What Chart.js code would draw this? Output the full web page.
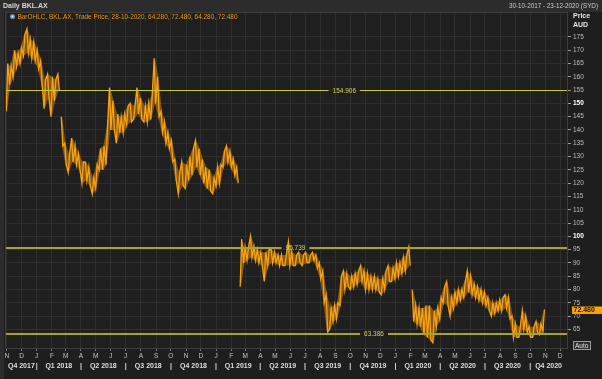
<!DOCTYPE html>
<html>
<head>
<meta charset="utf-8">
<script src="https://cdn.jsdelivr.net/npm/chart.js@4.4.0/dist/chart.umd.min.js"></script>
<style>
  html, body { margin: 0; padding: 0; background: #1e1e1e; }
  canvas { display: block; }
</style>
</head>
<body>
<canvas id="priceChart" width="602" height="379"></canvas>
<script>
// weekly low / high of BKL.AX, one entry per week, first week starts Monday 30-10-2017
const firstWeek = '2017-10-30';
const weekLows = [
  147, 157, 160, 164, 165, 168, 169, 167, 166, 163,
  157, 148, 152, 145, 151, 155,
  134, 127, 124, 128, 127, 125, 120, 121, 119, 116,
  118, 125, 125, 127, 140, 140, 135, 139, 139, 142,
  143, 144, 146, 144, 143, 143, 144, 150, 145, 139,
  135, 133, 128, 121, 116, 119, 118, 121, 123, 126,
  123, 120, 118, 117, 116, 119, 120, 126, 128, 126,
  123, 120,
  81, 90, 91, 92, 91, 90, 89, 83, 89, 90,
  90, 89, 89, 89, 89, 89, 89, 90, 89, 90,
  90, 91, 88, 84, 75, 64, 65, 68, 69, 74,
  80, 81, 80, 81, 82, 83, 80, 80, 80, 80,
  79, 78, 80, 83, 83, 84, 85, 86, 87, 89,
  68, 67, 66, 63, 62, 61, 60, 66, 69, 75,
  74, 70, 73, 75, 76, 77, 79, 78, 77, 76,
  75, 74, 72, 70, 71, 72, 72, 73, 69, 62,
  62, 62, 65, 64, 62, 62, 64, 63, 64.28
];
const weekHighs = [
  165, 164, 170, 169, 171, 176, 178, 174, 173, 170,
  166, 159, 161, 160, 159, 161,
  145, 135, 131, 137, 134, 131, 128, 128, 126, 122,
  127, 133, 134, 141, 156, 151, 146, 145, 146, 149,
  150, 149, 156, 152, 149, 150, 153, 167, 160, 147,
  143, 139, 136, 129, 124, 128, 127, 130, 133, 136,
  133, 129, 126, 125, 122, 126, 127, 132, 134, 132,
  129, 126,
  99, 96, 96, 100, 96, 95, 94, 94, 95, 95,
  94, 93, 93, 93, 98, 94, 93, 94, 93, 94,
  93, 94, 93, 90, 87, 78, 73, 74, 75, 85,
  87, 86, 85, 86, 87, 89, 87, 86, 85, 85,
  84, 84, 87, 89, 88, 90, 90, 92, 93, 96,
  80, 74, 73, 73, 74, 74, 72, 73, 77, 81,
  83, 77, 79, 80, 80, 83, 87, 85, 82, 81,
  80, 79, 77, 75, 75, 76, 77, 78, 77, 70,
  67, 66, 72, 70, 66, 66, 68, 67, 72.48
];

// last bar shown in the legend: open, high, low, close
const lastBarDate = '28-10-2020';
const lastBar = [64.28, 72.48, 64.28, 72.48];

// horizontal levels drawn on the chart
const levelValues = [154.906, 95.739, 63.386];

// axis labels
const firstMonth = [2017, 10]; // November 2017 (month is 0 based)
const monthLabels = [
  'N', 'D',
  'J', 'F', 'M', 'A', 'M', 'J', 'J', 'A', 'S', 'O', 'N', 'D',
  'J', 'F', 'M', 'A', 'M', 'J', 'J', 'A', 'S', 'O', 'N', 'D',
  'J', 'F', 'M', 'A', 'M', 'J', 'J', 'A', 'S', 'O', 'N', 'D'
];
const firstQuarter = [2017, 9]; // Q4 2017 starts in October
const quarterLabels = ['Q4 2017', 'Q1 2018', 'Q2 2018', 'Q3 2018', 'Q4 2018', 'Q1 2019', 'Q2 2019',
  'Q3 2019', 'Q4 2019', 'Q1 2020', 'Q2 2020', 'Q3 2020', 'Q4 2020'];
const priceTicks = [65, 70, 75, 80, 85, 90, 95, 100, 105, 110, 115, 120, 125, 130, 135, 140, 145,
  150, 155, 160, 165, 170, 175];

const FONT = '"Liberation Sans", Arial, sans-serif';
const ORANGE = '#f7a213';
const DAY = 864e5;

function toDay(text) { // yyyy-mm-dd to a day number
  const [y, m, d] = text.split('-').map(Number);
  return Date.UTC(y, m - 1, d) / DAY;
}
const origin = toDay(firstWeek);
const xMin = 0.5;
const xMax = toDay('2020-12-15') - origin;

function isGap(i) { // weekly ranges that do not touch = price gap
  return i > 0 && (weekHighs[i] < weekLows[i - 1] || weekLows[i] > weekHighs[i - 1]);
}

// each week becomes a low/high pair, so the line zig-zags like the daily bars
const pricePoints = [];
const lowPoints = [];
const highPoints = [];
weekLows.forEach((low, i) => {
  const high = weekHighs[i];
  if (isGap(i)) {
    pricePoints.push({ x: 7 * i, y: null });
    lowPoints.push({ x: 7 * i, y: null });
    highPoints.push({ x: 7 * i, y: null });
  }
  const rising = i < weekLows.length - 1 ? weekLows[i + 1] + weekHighs[i + 1] > low + high : true;
  pricePoints.push({ x: 7 * i + 1, y: rising ? low : high });
  pricePoints.push({ x: 7 * i + 4, y: rising ? high : low });
  lowPoints.push({ x: 7 * i + 2.5, y: low });
  highPoints.push({ x: 7 * i + 2.5, y: high });
});

const monthTicks = monthLabels.map((_, k) => Date.UTC(firstMonth[0], firstMonth[1] + k, 1) / DAY - origin);

const quarterTicks = [];
quarterLabels.forEach((label, q) => {
  const start = Date.UTC(firstQuarter[0], firstQuarter[1] + 3 * q, 1) / DAY - origin;
  const end = Date.UTC(firstQuarter[0], firstQuarter[1] + 3 * q + 3, 1) / DAY - origin;
  if (q > 0) quarterTicks.push({ value: start, text: '|' });
  quarterTicks.push({ value: (Math.max(start, xMin) + Math.min(end, xMax)) / 2, text: label });
});

// backgrounds behind the plot
const backdropPlugin = {
  id: 'backdrop',
  beforeDraw(chart) {
    const { ctx, chartArea: a, width, height } = chart;
    ctx.save();
    ctx.fillStyle = '#1e1e1e';
    ctx.fillRect(0, 0, width, height);
    ctx.fillStyle = '#2c2c2c';
    ctx.fillRect(0, 0, width, 12);
    ctx.fillRect(0, 0, 4, height);
    ctx.fillStyle = '#1f1f1f';
    ctx.fillRect(a.left, a.top, a.right - a.left, a.bottom - a.top);
    ctx.restore();
  },
  afterDraw(chart) {
    const { ctx, chartArea: a } = chart;
    ctx.save();
    ctx.strokeStyle = '#3c3c3c';
    ctx.lineWidth = 1;
    ctx.strokeRect(a.left - 0.5, a.top - 0.5, a.right - a.left + 1, a.bottom - a.top + 1);
    ctx.restore();
  }
};

// level lines with their value written in a gap of the line
const levelPlugin = {
  id: 'levels',
  afterDatasetsDraw(chart, args, opts) {
    const { ctx, chartArea: a, scales: { y } } = chart;
    ctx.save();
    ctx.font = '6.5px ' + FONT;
    ctx.textAlign = 'center';
    ctx.textBaseline = 'middle';
    levelValues.forEach((value, i) => {
      const w = opts.widths[i];
      const py = Math.round(y.getPixelForValue(value)) + (w % 2 ? 0.5 : 0);
      const cx = a.left + opts.labelAt[i] * (a.right - a.left);
      const label = value.toFixed(3);
      const half = ctx.measureText(label).width / 2 + 4;
      ctx.strokeStyle = opts.colors[i];
      ctx.lineWidth = w;
      ctx.beginPath();
      ctx.moveTo(a.left, py);
      ctx.lineTo(cx - half, py);
      ctx.moveTo(cx + half, py);
      ctx.lineTo(a.right, py);
      ctx.stroke();
      ctx.fillStyle = '#cfcf5a';
      ctx.fillText(label, cx, py + 0.5);
    });
    ctx.restore();
  }
};

// header, legend line, unit label, last price box and the Auto button
const framePlugin = {
  id: 'frameText',
  afterDraw(chart) {
    const { ctx, chartArea: a, scales: { y } } = chart;
    ctx.save();
    ctx.textBaseline = 'middle';

    ctx.fillStyle = '#d6d6d6';
    ctx.font = 'bold 7px ' + FONT;
    ctx.fillText('Daily BKL.AX', 3, 6.5, 45);
    ctx.textAlign = 'right';
    ctx.font = '6.5px ' + FONT;
    ctx.fillStyle = '#cccccc';
    ctx.fillText('30-10-2017 - 23-12-2020 (SYD)', 598, 6.5, 89);

    ctx.textAlign = 'left';
    ctx.fillStyle = '#6f86a6';
    ctx.beginPath();
    ctx.arc(12.5, 16.5, 2.6, 0, Math.PI * 2);
    ctx.fill();
    ctx.fillStyle = '#d8e2ee';
    ctx.fillRect(11.5, 15.5, 2, 2);
    ctx.fillStyle = '#e89a1a';
    ctx.font = '7px ' + FONT;
    const legend = ['BarOHLC', 'BKL.AX', 'Trade Price', lastBarDate].concat(lastBar.map(v => v.toFixed(3)));
    ctx.fillText(legend.join(', '), 17.5, 17.5, 220);

    ctx.fillStyle = '#e6e6e6';
    ctx.font = 'bold 7px ' + FONT;
    ctx.fillText('Price', 573, 16.5);
    ctx.fillText('AUD', 573, 25);

    const close = lastBar[3];
    const py = Math.round(y.getPixelForValue(close));
    ctx.fillStyle = '#ffa200';
    ctx.fillRect(a.right + 5, py - 3.5, 602 - a.right - 5, 7.5);
    ctx.fillStyle = '#1a1a1a';
    ctx.font = 'bold 7px ' + FONT;
    ctx.fillText(close.toFixed(3), 573.5, py + 0.5);

    ctx.fillStyle = '#2e2e2e';
    ctx.fillRect(573.5, 341.5, 17, 8);
    ctx.strokeStyle = '#9a9a9a';
    ctx.lineWidth = 1;
    ctx.strokeRect(573.5, 341.5, 17, 8);
    ctx.fillStyle = '#e0e0e0';
    ctx.font = '6.5px ' + FONT;
    ctx.fillText('Auto', 575, 346);
    ctx.restore();
  }
};

Chart.defaults.font.family = FONT;

new Chart(document.getElementById('priceChart'), {
  type: 'line',
  data: {
    datasets: [{
      label: 'BKL.AX',
      data: pricePoints,
      borderColor: ORANGE,
      borderWidth: 1.3,
      pointRadius: 0,
      tension: 0,
      spanGaps: false,
      fill: false
    }, {
      label: 'week low',
      data: lowPoints,
      borderWidth: 0,
      borderColor: 'rgba(0,0,0,0)',
      pointRadius: 0,
      tension: 0,
      spanGaps: false,
      fill: false
    }, {
      label: 'week high',
      data: highPoints,
      borderWidth: 0,
      borderColor: 'rgba(0,0,0,0)',
      backgroundColor: 'rgba(214, 132, 10, 0.55)',
      pointRadius: 0,
      tension: 0,
      spanGaps: false,
      fill: '-1'
    }]
  },
  options: {
    responsive: false,
    devicePixelRatio: 1,
    animation: false,
    layout: { padding: { left: 6, top: 13, right: 0, bottom: 8 } },
    plugins: {
      legend: { display: false },
      tooltip: { enabled: false },
      levels: {
        widths: [1, 2, 2],
        colors: ['#c8c83c', '#a4a42e', '#a4a42e'],
        labelAt: [0.603, 0.516, 0.656]
      }
    },
    scales: {
      x: {
        type: 'linear',
        position: 'bottom',
        min: xMin,
        max: xMax,
        weight: 0,
        border: { display: false },
        grid: { color: '#2e2e2e', tickLength: 3, tickColor: '#777777' },
        afterBuildTicks: (scale) => { scale.ticks = monthTicks.map(v => ({ value: v })); },
        afterFit: (scale) => { scale.height = 13; },
        ticks: {
          autoSkip: false,
          maxRotation: 0,
          padding: 1,
          color: '#c6c6c6',
          font: { size: 6.5 },
          callback: (value, index) => monthLabels[index]
        }
      },
      quarter: {
        type: 'linear',
        position: 'bottom',
        min: xMin,
        max: xMax,
        weight: 1,
        border: { display: false },
        grid: { display: false, drawTicks: false },
        afterBuildTicks: (scale) => { scale.ticks = quarterTicks.map(t => ({ value: t.value })); },
        afterFit: (scale) => { scale.height = 10; },
        ticks: {
          autoSkip: false,
          maxRotation: 0,
          padding: 1,
          color: '#dedede',
          font: { size: 7, weight: 'bold' },
          callback: (value, index) => quarterTicks[index].text
        }
      },
      y: {
        position: 'right',
        min: 58,
        max: 184,
        border: { display: true, color: '#444444' },
        grid: { color: '#2e2e2e', tickLength: 4, tickColor: '#9a9a9a' },
        afterBuildTicks: (scale) => { scale.ticks = priceTicks.map(v => ({ value: v })); },
        afterFit: (scale) => { scale.width = 35; },
        ticks: {
          padding: 2,
          color: (c) => (c.tick && c.tick.value % 50 === 0 ? '#ffffff' : '#bdbdbd'),
          font: (c) => ({ size: 6.5, weight: c.tick && c.tick.value % 50 === 0 ? 'bold' : 'normal' }),
          callback: (value) => String(value)
        }
      }
    }
  },
  plugins: [backdropPlugin, levelPlugin, framePlugin]
});
</script>
</body>
</html>
